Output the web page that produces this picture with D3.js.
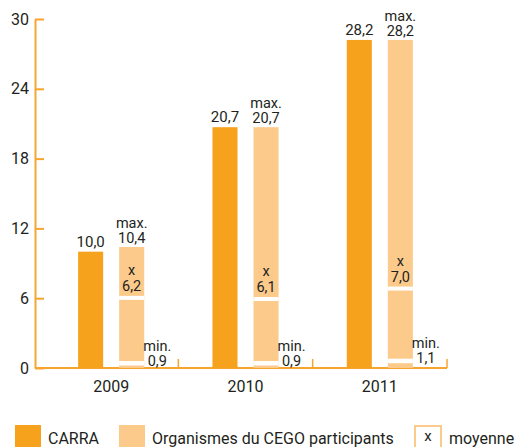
<!DOCTYPE html>
<html>
<head>
<meta charset="utf-8">
<script src="https://d3js.org/d3.v7.min.js"></script>
<style>
  body { margin: 0; background: #fff; }
  svg text { font-family: Roboto, "Liberation Sans", sans-serif; fill: #231f20; }
</style>
</head>
<body>
<script>
// chart values
var years = ["2009", "2010", "2011"];
var carra = [10.0, 20.7, 28.2];
var cegoMax = [10.4, 20.7, 28.2];
var cegoMean = [6.2, 6.1, 7.0];
var cegoMin = [0.9, 0.9, 1.1];
var yTicks = [0, 6, 12, 18, 24, 30];

var dark = "#f6a21d", light = "#fccb8b", axisCol = "#f8a530";
var fmt = function(v) { return v.toFixed(1).replace(".", ","); };

var svg = d3.select("body").append("svg")
  .attr("width", 518)
  .attr("height", 447);

var y = d3.scaleLinear().domain([0, 30]).range([368, 19]);
var x = d3.scaleBand().domain(years).range([44, 447]);
var xs = d3.scaleBand().domain(["carra", "cego"])
  .range([x.bandwidth() * 0.254, x.bandwidth() * 0.746])
  .paddingInner(0.39);

// y axis, ticks pointing inward
var yAxis = svg.append("g")
  .attr("transform", "translate(35,0)")
  .call(d3.axisLeft(y).tickValues(yTicks).tickSizeInner(-9).tickSizeOuter(0).tickPadding(6));
yAxis.select(".domain").attr("stroke", axisCol).attr("stroke-width", 2);
yAxis.selectAll(".tick line").attr("stroke", axisCol).attr("stroke-width", 2);
yAxis.selectAll(".tick text").style("font-size", "16px").attr("fill", "#231f20");

// bottom axis line with separators
svg.append("line")
  .attr("x1", 35).attr("x2", x.range()[1])
  .attr("y1", y(0)).attr("y2", y(0))
  .attr("stroke", axisCol).attr("stroke-width", 2);
svg.selectAll(".sep").data(years).enter().append("line")
  .attr("class", "sep")
  .attr("x1", d => x(d) + x.bandwidth()).attr("x2", d => x(d) + x.bandwidth())
  .attr("y1", y(0)).attr("y2", y(0) - 9)
  .attr("stroke", axisCol).attr("stroke-width", 1.5);

var g = svg.selectAll(".yr").data(years).enter().append("g")
  .attr("class", "yr")
  .attr("transform", d => "translate(" + x(d) + ",0)");

g.each(function(d, i) {
  var el = d3.select(this);
  var cx = xs("carra"), lx = xs("cego"), bw = xs.bandwidth();

  el.append("rect")
    .attr("x", cx).attr("width", bw)
    .attr("y", y(carra[i])).attr("height", y(0) - y(carra[i]))
    .attr("fill", dark);
  el.append("text")
    .attr("x", cx + bw / 2).attr("y", y(carra[i]) - 5)
    .attr("text-anchor", "middle").style("font-size", "15px")
    .text(fmt(carra[i]));

  el.append("rect")
    .attr("x", lx).attr("width", bw)
    .attr("y", y(cegoMax[i])).attr("height", y(0) - y(cegoMax[i]))
    .attr("fill", light);
  // white breaks at mean and min
  el.append("rect")
    .attr("x", lx).attr("width", bw)
    .attr("y", y(cegoMean[i])).attr("height", 4)
    .attr("fill", "#fff");
  el.append("rect")
    .attr("x", lx).attr("width", bw)
    .attr("y", y(cegoMin[i]) + 3.5).attr("height", 4.5)
    .attr("fill", "#fff");

  var mx = el.append("text")
    .attr("text-anchor", "middle").style("font-size", "14.5px");
  mx.append("tspan").attr("x", lx + bw / 2).attr("y", y(cegoMax[i]) - 19).text("max.");
  mx.append("tspan").attr("x", lx + bw / 2).attr("y", y(cegoMax[i]) - 4).text(fmt(cegoMax[i]));

  var mn = el.append("text")
    .attr("text-anchor", "middle").style("font-size", "14.5px");
  mn.append("tspan").attr("x", lx + bw / 2).attr("y", y(cegoMean[i]) - 21).text("x");
  mn.append("tspan").attr("x", lx + bw / 2).attr("y", y(cegoMean[i]) - 5).text(fmt(cegoMean[i]));

  var mi = el.append("text")
    .attr("text-anchor", "middle").style("font-size", "14.5px");
  mi.append("tspan").attr("x", lx + bw + 13).attr("y", y(cegoMin[i]) - 7).text("min.");
  mi.append("tspan").attr("x", lx + bw + 13).attr("y", y(cegoMin[i]) + 8).text(fmt(cegoMin[i]));

  el.append("text")
    .attr("x", x.bandwidth() / 2).attr("y", 392)
    .attr("text-anchor", "middle").style("font-size", "16px")
    .text(d);
});

// legend
var leg = svg.append("g");
leg.append("rect").attr("x", 15).attr("y", 425).attr("width", 26).attr("height", 26).attr("fill", dark);
leg.append("text").attr("x", 48).attr("y", 444).style("font-size", "16px").text("CARRA");
leg.append("rect").attr("x", 119).attr("y", 425).attr("width", 26).attr("height", 26).attr("fill", light);
leg.append("text").attr("x", 152).attr("y", 444).style("font-size", "16px").text("Organismes du CEGO participants");
leg.append("rect").attr("x", 415).attr("y", 426).attr("width", 26).attr("height", 26)
  .attr("fill", "#fff").attr("stroke", light).attr("stroke-width", 2);
leg.append("text").attr("x", 428).attr("y", 441).attr("text-anchor", "middle").style("font-size", "15px").text("x");
leg.append("text").attr("x", 449).attr("y", 444).style("font-size", "16px").text("moyenne");
</script>
</body>
</html>
